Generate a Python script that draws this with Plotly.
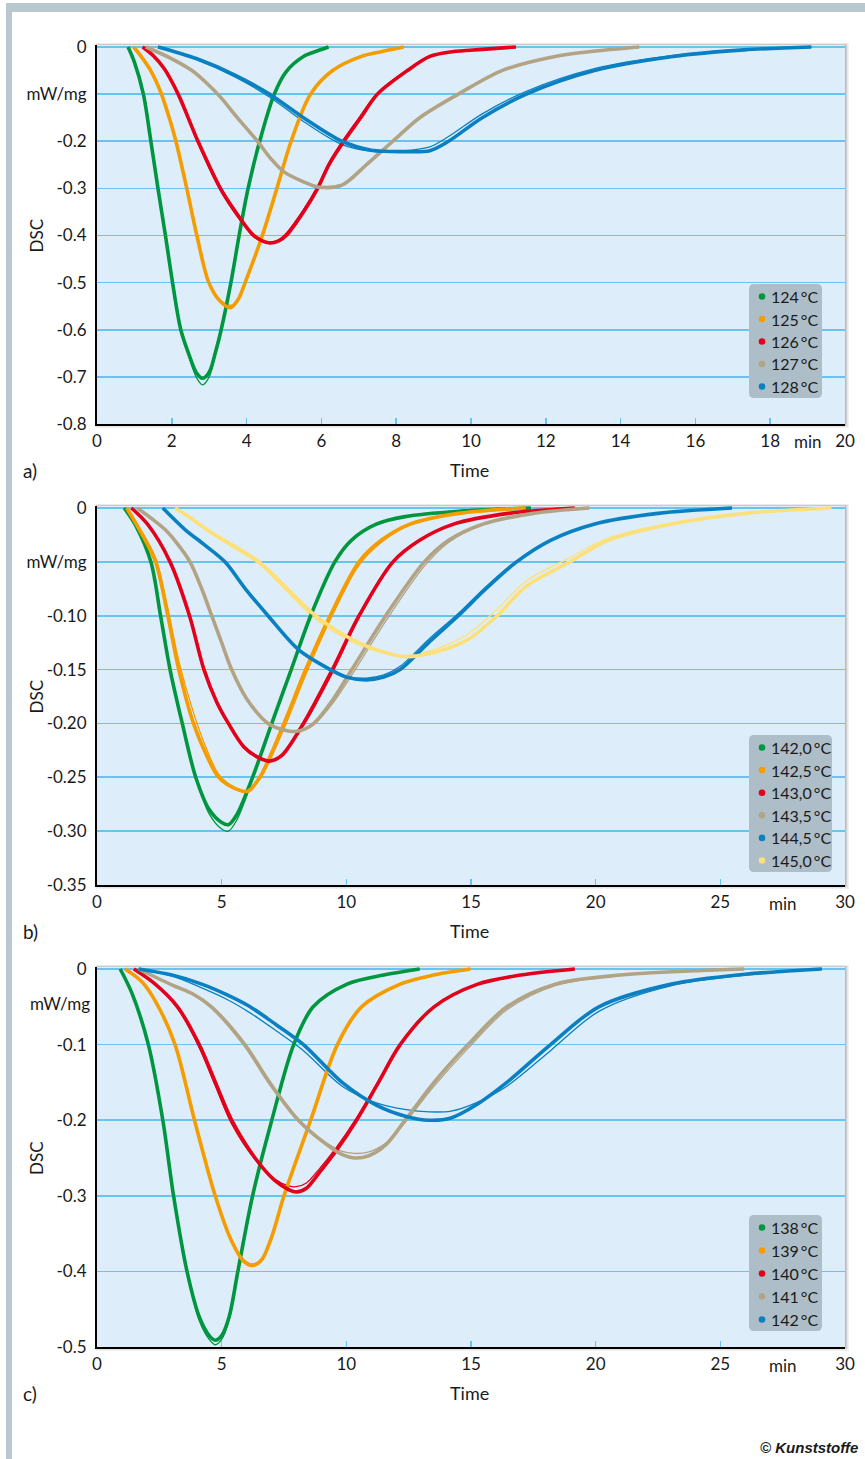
import plotly.graph_objects as go

# ---------------- data ----------------
# panel a) 124..128 °C, time in min, DSC in mW/mg; *_v = run 1, *_v2 = run 2
a_labels = ["124\u2009°C", "125\u2009°C", "126\u2009°C", "127\u2009°C", "128\u2009°C"]
a124_t = [0.83, 1.0, 1.24, 1.44, 1.63, 1.83, 2.02, 2.24, 2.47, 2.65, 2.82, 3.0, 3.16, 3.32, 3.58, 3.8, 4.04, 4.35, 4.74, 5.06, 5.52, 5.9, 6.19]
a124_v = [0, -0.032, -0.1, -0.2, -0.3, -0.4, -0.5, -0.6, -0.655, -0.69, -0.703, -0.69, -0.65, -0.6, -0.5, -0.4, -0.3, -0.2, -0.1, -0.052, -0.02, -0.008, 0]
a124_v2 = [0, -0.032, -0.1, -0.2, -0.3, -0.4, -0.5, -0.6, -0.66, -0.70, -0.717, -0.70, -0.655, -0.6, -0.5, -0.4, -0.3, -0.2, -0.1, -0.052, -0.02, -0.008, 0]
a125_t = [0.98, 1.2, 1.45, 1.7, 1.95, 2.11, 2.4, 2.67, 2.99, 3.3, 3.58, 3.78, 3.96, 4.42, 4.81, 5.19, 5.71, 6.3, 7.07, 7.6, 8.2]
a125_v = [0, -0.022, -0.052, -0.095, -0.155, -0.2, -0.3, -0.4, -0.5, -0.54, -0.553, -0.535, -0.5, -0.4, -0.3, -0.2, -0.1, -0.05, -0.02, -0.01, 0]
a125_v2 = [0, -0.022, -0.052, -0.095, -0.155, -0.2, -0.3, -0.4, -0.5, -0.537, -0.548, -0.532, -0.5, -0.4, -0.3, -0.2, -0.1, -0.05, -0.02, -0.01, 0]
a126_t = [1.22, 1.5, 1.8, 2.17, 2.7, 3.3, 3.75, 4.15, 4.4, 4.62, 4.85, 5.06, 5.52, 5.9, 6.2, 6.6, 7.05, 7.5, 8.3, 8.9, 9.5, 10.3, 11.2]
a126_v = [0, -0.018, -0.046, -0.1, -0.2, -0.3, -0.355, -0.397, -0.411, -0.416, -0.412, -0.4, -0.35, -0.3, -0.25, -0.2, -0.15, -0.1, -0.05, -0.02, -0.01, -0.005, 0]
a126_v2 = [0, -0.018, -0.046, -0.1, -0.205, -0.305, -0.36, -0.399, -0.41, -0.414, -0.409, -0.395, -0.345, -0.295, -0.245, -0.195, -0.145, -0.097, -0.048, -0.019, -0.01, -0.005, 0]
a127_t = [1.31, 2.0, 2.54, 2.95, 3.32, 3.7, 4.29, 4.65, 5.0, 5.52, 5.9, 6.55, 7.2, 7.91, 8.63, 9.66, 10.83, 12.25, 13.4, 14.5]
a127_v = [0, -0.025, -0.05, -0.078, -0.108, -0.145, -0.2, -0.237, -0.265, -0.286, -0.297, -0.293, -0.25, -0.2, -0.15, -0.1, -0.05, -0.02, -0.008, 0]
a127_v2 = [0, -0.025, -0.05, -0.078, -0.108, -0.145, -0.2, -0.236, -0.264, -0.285, -0.295, -0.291, -0.248, -0.198, -0.148, -0.099, -0.05, -0.02, -0.008, 0]
a128_t = [1.63, 2.67, 3.7, 4.61, 5.52, 6.55, 7.33, 8.24, 8.9, 9.4, 10.3, 11.48, 13.3, 15.4, 17.3, 19.1]
a128_v = [0, -0.025, -0.06, -0.1, -0.15, -0.2, -0.219, -0.222, -0.22, -0.2, -0.15, -0.1, -0.05, -0.02, -0.006, 0]
a128_v2 = [0, -0.027, -0.064, -0.106, -0.158, -0.207, -0.221, -0.22, -0.212, -0.19, -0.142, -0.094, -0.046, -0.018, -0.005, 0]

# panel b) 142,0..145,0 °C
b_labels = ["142,0\u2009°C", "142,5\u2009°C", "143,0\u2009°C", "143,5\u2009°C", "144,5\u2009°C", "145,0\u2009°C"]
b1420_t = [1.09, 1.57, 2.16, 2.55, 2.93, 3.42, 3.96, 4.5, 5.0, 5.27, 5.6, 6.24, 7.01, 7.79, 8.57, 9.54, 10.2, 11.2, 12.36, 14.5, 17.4]
b1420_v = [0, -0.017, -0.05, -0.10, -0.15, -0.20, -0.25, -0.28, -0.292, -0.294, -0.285, -0.25, -0.20, -0.15, -0.10, -0.05, -0.03, -0.015, -0.008, -0.003, 0]
b1420_v2 = [0, -0.017, -0.05, -0.10, -0.15, -0.20, -0.25, -0.284, -0.298, -0.300, -0.29, -0.252, -0.20, -0.15, -0.10, -0.05, -0.03, -0.015, -0.008, -0.003, 0]
b1425_t = [1.19, 1.7, 2.35, 2.84, 3.28, 3.87, 4.4, 4.88, 5.5, 6.04, 6.53, 7.5, 8.37, 9.35, 10.51, 11.4, 12.55, 14.5, 17.2]
b1425_v = [0, -0.02, -0.05, -0.10, -0.15, -0.20, -0.23, -0.25, -0.26, -0.263, -0.25, -0.20, -0.15, -0.10, -0.05, -0.03, -0.015, -0.005, 0]
b1425_v2 = [0, -0.018, -0.046, -0.093, -0.142, -0.19, -0.224, -0.247, -0.259, -0.262, -0.252, -0.205, -0.155, -0.104, -0.053, -0.032, -0.016, -0.005, 0]
b1430_t = [1.38, 2.06, 2.93, 3.71, 4.29, 4.8, 5.27, 5.9, 6.5, 6.92, 7.4, 8.28, 9.44, 10.51, 11.87, 12.94, 14.3, 16.5, 19.16]
b1430_v = [0, -0.016, -0.05, -0.10, -0.15, -0.18, -0.20, -0.222, -0.232, -0.235, -0.23, -0.20, -0.15, -0.10, -0.05, -0.03, -0.015, -0.005, 0]
b1430_v2 = [0, -0.016, -0.05, -0.10, -0.15, -0.18, -0.20, -0.221, -0.231, -0.234, -0.229, -0.202, -0.153, -0.102, -0.051, -0.03, -0.015, -0.005, 0]
b1435_t = [1.62, 2.2, 2.73, 3.25, 3.73, 4.2, 4.6, 5.0, 5.4, 6.0, 6.86, 7.5, 7.95, 8.35, 8.7, 9.4, 10.22, 11.58, 13.13, 14.1, 15.47, 17.5, 19.74]
b1435_v = [0, -0.01, -0.02, -0.034, -0.05, -0.075, -0.1, -0.125, -0.15, -0.177, -0.20, -0.206, -0.2075, -0.205, -0.20, -0.18, -0.15, -0.10, -0.05, -0.03, -0.015, -0.005, 0]
b1435_v2 = [0, -0.01, -0.02, -0.034, -0.05, -0.075, -0.1, -0.125, -0.15, -0.177, -0.20, -0.206, -0.207, -0.205, -0.201, -0.183, -0.155, -0.105, -0.054, -0.032, -0.016, -0.005, 0]
b1445_t = [2.64, 3.53, 4.3, 5.13, 5.95, 6.86, 8.08, 9.35, 10.0, 10.8, 11.5, 12.16, 13.3, 14.49, 15.6, 16.83, 18.19, 19.93, 22.5, 25.47]
b1445_v = [0, -0.02, -0.034, -0.05, -0.075, -0.10, -0.1315, -0.15, -0.157, -0.1596, -0.157, -0.15, -0.125, -0.10, -0.075, -0.05, -0.03, -0.015, -0.005, 0]
b1445_v2 = [0, -0.02, -0.034, -0.05, -0.075, -0.10, -0.131, -0.149, -0.156, -0.158, -0.155, -0.147, -0.122, -0.098, -0.073, -0.049, -0.03, -0.015, -0.005, 0]
b1450_t = [3.13, 3.8, 4.4, 5.4, 6.5, 7.6, 8.76, 10.22, 11.39, 12.36, 13.7, 14.88, 16.05, 17.2, 18.96, 20.5, 23.0, 26.0, 29.45]
b1450_v = [0, -0.01, -0.02, -0.034, -0.05, -0.074, -0.10, -0.122, -0.133, -0.138, -0.133, -0.122, -0.10, -0.073, -0.05, -0.03, -0.015, -0.005, 0]
b1450_v2 = [0, -0.01, -0.021, -0.036, -0.052, -0.077, -0.103, -0.124, -0.134, -0.137, -0.13, -0.117, -0.094, -0.068, -0.046, -0.028, -0.014, -0.005, 0]

# panel c) 138..142 °C
c_labels = ["138\u2009°C", "139\u2009°C", "140\u2009°C", "141\u2009°C", "142\u2009°C"]
c138_t = [0.93, 1.4, 2.06, 2.64, 3.07, 3.61, 4.1, 4.5, 4.74, 5.0, 5.3, 5.65, 6.24, 7.01, 7.89, 8.67, 10.03, 11.5, 12.94]
c138_v = [0, -0.032, -0.1, -0.2, -0.3, -0.4, -0.46, -0.485, -0.491, -0.485, -0.46, -0.4, -0.3, -0.2, -0.1, -0.05, -0.02, -0.008, 0]
c138_v2 = [0, -0.032, -0.1, -0.2, -0.3, -0.4, -0.465, -0.49, -0.497, -0.49, -0.464, -0.402, -0.3, -0.2, -0.1, -0.05, -0.02, -0.008, 0]
c139_t = [1.13, 1.8, 2.4, 3.13, 3.91, 4.74, 5.4, 5.9, 6.24, 6.6, 7.0, 7.5, 8.57, 9.64, 10.61, 12.16, 13.5, 14.98]
c139_v = [0, -0.017, -0.046, -0.1, -0.2, -0.3, -0.36, -0.387, -0.392, -0.385, -0.355, -0.3, -0.2, -0.1, -0.05, -0.02, -0.008, 0]
c139_v2 = [0, -0.017, -0.046, -0.1, -0.2, -0.3, -0.358, -0.385, -0.39, -0.384, -0.354, -0.3, -0.202, -0.103, -0.052, -0.021, -0.008, 0]
c140_t = [1.48, 2.3, 3.23, 4.1, 4.75, 5.4, 6.34, 7.14, 7.7, 7.99, 8.4, 8.9, 9.6, 10.41, 11.29, 12.16, 13.52, 15.27, 17.0, 19.16]
c140_v = [0, -0.019, -0.05, -0.1, -0.15, -0.2, -0.25, -0.28, -0.292, -0.295, -0.29, -0.27, -0.24, -0.2, -0.15, -0.1, -0.05, -0.02, -0.008, 0]
c140_v2 = [0, -0.019, -0.052, -0.104, -0.155, -0.205, -0.252, -0.278, -0.287, -0.288, -0.283, -0.265, -0.236, -0.197, -0.148, -0.099, -0.05, -0.02, -0.008, 0]
c141_t = [1.67, 3.0, 3.9, 4.59, 5.93, 6.92, 8.08, 9.2, 9.8, 10.32, 10.9, 11.6, 12.36, 13.52, 14.88, 16.44, 18.38, 21.0, 25.96]
c141_v = [0, -0.021, -0.034, -0.05, -0.1, -0.15, -0.2, -0.232, -0.245, -0.25, -0.247, -0.232, -0.2, -0.15, -0.1, -0.05, -0.02, -0.008, 0]
c141_v2 = [0, -0.021, -0.035, -0.052, -0.103, -0.153, -0.202, -0.23, -0.241, -0.244, -0.242, -0.23, -0.203, -0.155, -0.105, -0.054, -0.022, -0.008, 0]
c142_t = [1.67, 3.0, 4.2, 5.2, 6.14, 7.2, 8.28, 9.83, 11.2, 12.4, 13.33, 14.2, 15.2, 16.44, 18.19, 20.13, 23.04, 26.0, 29.07]
c142_v = [0, -0.008, -0.02, -0.034, -0.05, -0.074, -0.1, -0.15, -0.18, -0.195, -0.2, -0.197, -0.18, -0.15, -0.1, -0.05, -0.02, -0.007, 0]
c142_v2 = [0, -0.009, -0.025, -0.04, -0.058, -0.082, -0.108, -0.155, -0.177, -0.186, -0.189, -0.188, -0.177, -0.155, -0.108, -0.056, -0.022, -0.008, 0]

# tick labels
a_xticks = [0, 2, 4, 6, 8, 10, 12, 14, 16, 18, 20]
bc_xticks = [0, 5, 10, 15, 20, 25, 30]
a_yticks = [0, -0.1, -0.2, -0.3, -0.4, -0.5, -0.6, -0.7, -0.8]
a_yticktext = ["0", "mW/mg", "-0.2", "-0.3", "-0.4", "-0.5", "-0.6", "-0.7", "-0.8"]
b_yticks = [0, -0.05, -0.10, -0.15, -0.20, -0.25, -0.30, -0.35]
b_yticktext = ["0", "mW/mg", "-0.10", "-0.15", "-0.20", "-0.25", "-0.30", "-0.35"]
c_yticks = [0, -0.1, -0.2, -0.3, -0.4, -0.5]
c_yticktext = ["0", "-0.1", "-0.2", "-0.3", "-0.4", "-0.5"]

# ---------------- styling / layout ----------------
W, H = 865, 1459
GREEN, ORANGE, RED, TAN, BLUE, YELLOW = "#00963f", "#f59c00", "#e2001a", "#b2a384", "#0a80c2", "#fde07a"
PLOTBG, GRID, FRAME, LEGBG = "#ddeefa", "#66c5ef", "#b9c7cf", "#adbec8"
FONT = "Lato, 'Noto Sans', sans-serif"
TXT = "#1a1a1a"
TICKSIZE = 17
SMOOTH = 0.9

def fx(px):
    return px / W

def fy(py):
    return 1 - py / H

PX_L, PX_R = 97, 845
PAD = 2

panels = [
    dict(y0=47, y1=424, vmin=0.8, xmax=20, xticks=a_xticks, yticks=a_yticks, ytext=a_yticktext,
         minpos=19, tag="a)", labels=a_labels,
         series=[(a124_t, a124_v, a124_v2, GREEN), (a125_t, a125_v, a125_v2, ORANGE),
                 (a126_t, a126_v, a126_v2, RED), (a127_t, a127_v, a127_v2, TAN),
                 (a128_t, a128_v, a128_v2, BLUE)],
         leg=(749, 284, 822, 398)),
    dict(y0=508, y1=885, vmin=0.35, xmax=30, xticks=bc_xticks, yticks=b_yticks, ytext=b_yticktext,
         minpos=27.5, tag="b)", labels=b_labels,
         series=[(b1420_t, b1420_v, b1420_v2, GREEN), (b1425_t, b1425_v, b1425_v2, ORANGE),
                 (b1430_t, b1430_v, b1430_v2, RED), (b1435_t, b1435_v, b1435_v2, TAN),
                 (b1445_t, b1445_v, b1445_v2, BLUE), (b1450_t, b1450_v, b1450_v2, YELLOW)],
         leg=(749, 735, 832, 872)),
    dict(y0=969, y1=1347, vmin=0.5, xmax=30, xticks=bc_xticks, yticks=c_yticks, ytext=c_yticktext,
         minpos=27.5, tag="c)", labels=c_labels, unit_y=1003,
         series=[(c138_t, c138_v, c138_v2, GREEN), (c139_t, c139_v, c139_v2, ORANGE),
                 (c140_t, c140_v, c140_v2, RED), (c141_t, c141_v, c141_v2, TAN),
                 (c142_t, c142_v, c142_v2, BLUE)],
         leg=(749, 1215, 822, 1331)),
]

fig = go.Figure()
shapes, annotations = [], []
layout = dict(width=W, height=H, margin=dict(l=0, r=0, t=0, b=0, pad=0, autoexpand=False),
              paper_bgcolor="white", plot_bgcolor="rgba(0,0,0,0)", template="none",
              showlegend=False, hovermode=False, font=dict(family=FONT, color=TXT, size=15))

# outer frame (top and left bands)
shapes.append(dict(type="rect", xref="paper", yref="paper", x0=fx(6), x1=fx(865), y0=fy(12), y1=fy(3),
                   fillcolor=FRAME, line=dict(width=0), layer="below"))
shapes.append(dict(type="rect", xref="paper", yref="paper", x0=fx(6), x1=fx(12), y0=fy(1459), y1=fy(3),
                   fillcolor=FRAME, line=dict(width=0), layer="below"))

for i, p in enumerate(panels):
    n = "" if i == 0 else str(i + 1)
    xa, ya = "x" + n, "y" + n
    ppu = (p["y1"] - p["y0"]) / p["vmin"]
    top_px = p["y0"] - PAD
    # drop shadow and plot background
    for grow, op in [(4, 0.08), (2.5, 0.13), (1.2, 0.2)]:
        shapes.append(dict(type="rect", xref="paper", yref="paper",
                           x0=fx(PX_L - grow * 0.3), x1=fx(PX_R + grow),
                           y0=fy(p["y1"] + grow), y1=fy(top_px - grow * 0.5),
                           fillcolor="rgba(60,60,60,%.2f)" % op, line=dict(width=0), layer="below"))
    shapes.append(dict(type="rect", xref="paper", yref="paper", x0=fx(PX_L), x1=fx(PX_R),
                       y0=fy(p["y1"]), y1=fy(top_px), fillcolor=PLOTBG, line=dict(width=0), layer="below"))

    for (t, v, v2, col) in p["series"]:
        fig.add_trace(go.Scatter(x=t, y=v2, mode="lines", xaxis=xa, yaxis=ya, showlegend=False,
                                 line=dict(color=col, width=1.3, shape="spline", smoothing=SMOOTH),
                                 hoverinfo="skip"))
    for (t, v, v2, col), lab in zip(p["series"], p["labels"]):
        fig.add_trace(go.Scatter(x=t, y=v, mode="lines", xaxis=xa, yaxis=ya, name=lab,
                                 line=dict(color=col, width=3.6, shape="spline", smoothing=SMOOTH)))

    layout["xaxis" + n] = dict(domain=[fx(PX_L), fx(PX_R)], range=[0, p["xmax"]], anchor=ya,
                               automargin=False, fixedrange=True,
                               tickvals=p["xticks"], ticktext=[str(k) for k in p["xticks"]],
                               showgrid=False, zeroline=False, showline=True, linecolor="black",
                               linewidth=2, ticks="inside", ticklen=6, tickwidth=1.5, tickcolor=GRID,
                               tickfont=dict(size=TICKSIZE, family=FONT, color=TXT), ticklabelstandoff=1)
    layout["yaxis" + n] = dict(domain=[fy(p["y1"]), fy(top_px)], range=[-p["vmin"], PAD / ppu],
                               anchor=xa, automargin=False, fixedrange=True,
                               tickvals=p["yticks"], ticktext=p["ytext"],
                               showgrid=True, gridcolor=GRID, gridwidth=1.6, zeroline=False,
                               showline=True, linecolor="black", linewidth=2, ticks="",
                               tickfont=dict(size=TICKSIZE, family=FONT, color=TXT), ticklabelstandoff=5)

    lab_y = p["y1"] + 46
    annotations.append(dict(x=fx(470), y=fy(lab_y), xref="paper", yref="paper", text="Time",
                            showarrow=False, font=dict(size=18, family=FONT, color=TXT),
                            xanchor="center", yanchor="middle"))
    annotations.append(dict(x=fx(21), y=fy(lab_y), xref="paper", yref="paper", text=p["tag"],
                            showarrow=False, font=dict(size=19, family=FONT, color=TXT),
                            xanchor="left", yanchor="middle"))
    annotations.append(dict(x=fx(36), y=fy((p["y0"] + p["y1"]) / 2), xref="paper", yref="paper",
                            text="DSC", textangle=-90, showarrow=False,
                            font=dict(size=17, family=FONT, color=TXT),
                            xanchor="center", yanchor="middle"))
    annotations.append(dict(x=p["minpos"], y=fy(p["y1"] + 18), xref=xa, yref="paper", text="min",
                            showarrow=False, font=dict(size=TICKSIZE, family=FONT, color=TXT),
                            xanchor="center", yanchor="middle"))
    if "unit_y" in p:
        annotations.append(dict(x=fx(92), y=fy(p["unit_y"]), xref="paper", yref="paper", text="mW/mg",
                                showarrow=False, font=dict(size=TICKSIZE, family=FONT, color=TXT),
                                xanchor="right", yanchor="middle"))

    # legend box (rounded)
    lx0, ly0, lx1, ly1 = p["leg"]
    r = 5
    path = ("M {a},{b} L {c},{b} Q {d},{b} {d},{e} L {d},{f} Q {d},{g} {c},{g} "
            "L {a},{g} Q {h},{g} {h},{f} L {h},{e} Q {h},{b} {a},{b} Z").format(
        a=fx(lx0 + r), b=fy(ly0), c=fx(lx1 - r), d=fx(lx1), e=fy(ly0 + r),
        f=fy(ly1 - r), g=fy(ly1), h=fx(lx0))
    shapes.append(dict(type="path", xref="paper", yref="paper", path=path,
                       fillcolor=LEGBG, line=dict(width=0), layer="above"))
    nitem = len(p["labels"])
    step = (ly1 - ly0 - 24) / (nitem - 1)
    for k, ((t, v, v2, col), lab) in enumerate(zip(p["series"], p["labels"])):
        cy = ly0 + 12.5 + k * step
        shapes.append(dict(type="circle", xref="paper", yref="paper",
                           x0=fx(762 - 3.3), x1=fx(762 + 3.3), y0=fy(cy + 3.3), y1=fy(cy - 3.3),
                           fillcolor=col, line=dict(width=0), layer="above"))
        annotations.append(dict(x=fx(769), y=fy(cy), xref="paper", yref="paper", text=lab,
                                showarrow=False, font=dict(size=16, family=FONT, color=TXT),
                                xanchor="left", yanchor="middle"))

annotations.append(dict(x=fx(860), y=fy(1447), xref="paper", yref="paper", text="© Kunststoffe",
                        showarrow=False, xanchor="right", yanchor="middle",
                        font=dict(size=15, family="'Liberation Sans Narrow', 'Liberation Sans', Arial",
                                  color=TXT, weight="bold", style="italic")))

layout["shapes"] = shapes
layout["annotations"] = annotations
fig.update_layout(**layout)
fig.write_html("out.html", config={"displayModeBar": False, "staticPlot": True},
               post_script="document.body.style.margin='0px';document.body.style.overflow='hidden';")
